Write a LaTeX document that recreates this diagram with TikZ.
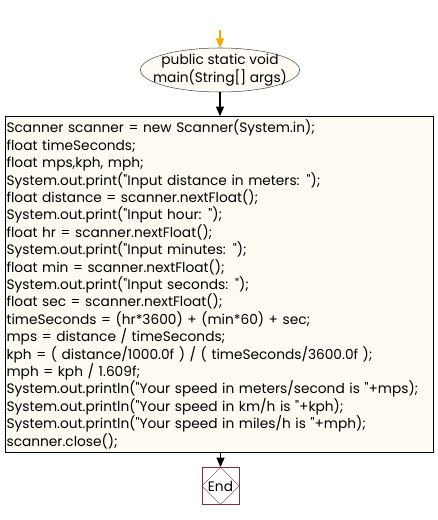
\documentclass[tikz,border=0pt]{standalone}
\usepackage{fontspec}
\setmainfont{Poppins}[Ligatures=TeXOff]
\usetikzlibrary{arrows.meta, shapes.geometric, positioning}
\definecolor{flowFill}{RGB}{255,251,242}
\definecolor{flowStart}{RGB}{255,166,0}
\definecolor{flowEnd}{RGB}{128,50,50}

\begin{document}
\begin{tikzpicture}[
    x=0.75pt, y=-0.75pt,
    txt/.style={font=\fontsize{10.3}{13.05}\selectfont},
    oval/.style={ellipse, draw=black!70, fill=flowFill, txt, align=center, minimum width=116pt, minimum height=33pt, inner xsep=-8pt, inner ysep=-1.5pt},
    codebox/.style={draw, fill=flowFill, txt, align=left, minimum width=321pt, minimum height=252pt, text width=319pt, inner sep=1pt},
    stopbox/.style={draw=flowEnd, fill=white, txt, minimum width=28pt, minimum height=28pt, inner sep=0pt,
      path picture={\draw[flowEnd, line width=0.3pt] (path picture bounding box.north) -- (path picture bounding box.east)
        -- (path picture bounding box.south) -- (path picture bounding box.west) -- cycle;}},
    flow/.style={-{Triangle[length=7pt, width=6pt]}, line width=0.8pt}
  ]
    \useasboundingbox (0,0) rectangle (438,520);

    % entry point
    \coordinate (entry) at (220,30);
    \node[oval] (main) at (220,70) {public static void\\main(String[] args)};

    % method body
    \node[codebox, anchor=north west] (body) at (5,116) {%
      Scanner scanner = new Scanner(System.in);\\
      float timeSeconds;\\
      float mps,kph, mph;\\
      System.out.print("Input distance in meters: ");\\
      float distance = scanner.nextFloat();\\
      System.out.print("Input hour: ");\\
      float hr = scanner.nextFloat();\\
      System.out.print("Input minutes: ");\\
      float min = scanner.nextFloat();\\
      System.out.print("Input seconds: ");\\
      float sec = scanner.nextFloat();\\
      timeSeconds = (hr*3600) + (min*60) + sec;\\
      mps = distance / timeSeconds;\\
      kph = ( distance/1000.0f ) / ( timeSeconds/3600.0f );\\
      mph = kph / 1.609f;\\
      System.out.println("Your speed in meters/second is "+mps);\\
      System.out.println("Your speed in km/h is "+kph);\\
      System.out.println("Your speed in miles/h is "+mph);\\
      scanner.close();};

    % exit
    \node[stopbox] (stop) at (220.5,486) {End};

    \draw[flow, flowStart] (entry) -- (main);
    \draw[flow] (main) -- (body.north -| main);
    \draw[flow] (body.south -| stop) -- (stop);
  \end{tikzpicture}
\end{document}
